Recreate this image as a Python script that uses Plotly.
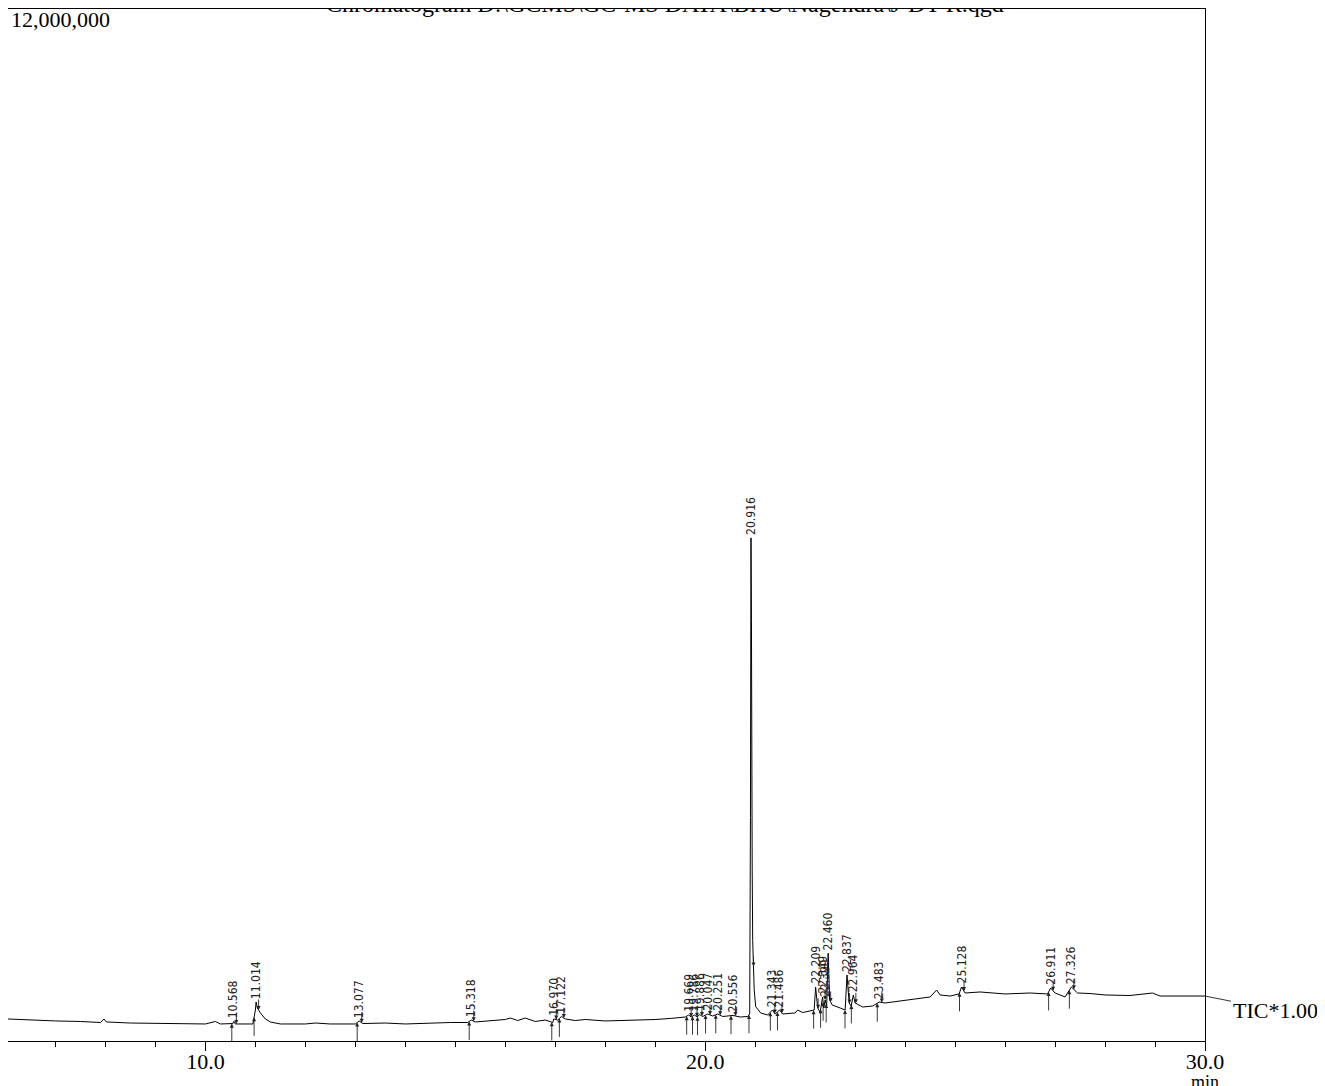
import numpy as np
import plotly.graph_objects as go

# ---------------- data ----------------
rt_min = [6.05, 6.5, 7.0, 7.5, 7.9, 7.97, 8.02, 8.5, 9.0, 9.5, 10.0, 10.2, 10.3, 10.55, 10.568, 10.6,
          10.95, 11.0, 11.014, 11.04, 11.1, 11.2, 11.3, 11.5, 12.0, 12.2, 12.5, 13.0, 13.077, 13.15,
          13.6, 14.0, 14.5, 14.9, 15.25, 15.318, 15.4, 15.7, 16.0, 16.1, 16.25, 16.4, 16.6, 16.8,
          16.95, 16.97, 17.05, 17.122, 17.2, 17.4, 17.6, 18.0, 18.5, 19.0, 19.3, 19.6, 19.669, 19.72,
          19.786, 19.84, 19.886, 19.95, 20.047, 20.15, 20.251, 20.35, 20.556, 20.7, 20.85, 20.89,
          20.905, 20.916, 20.925, 20.94, 20.95, 20.98, 21.01, 21.11, 21.25, 21.343, 21.4, 21.486,
          21.55, 21.8, 21.85, 21.95, 22.1, 22.18, 22.209, 22.25, 22.3, 22.349, 22.37, 22.399, 22.43,
          22.46, 22.49, 22.54, 22.7, 22.8, 22.837, 22.88, 22.92, 22.964, 23.0, 23.15, 23.35, 23.483,
          23.6, 24.0, 24.5, 24.63, 24.7, 24.9, 25.08, 25.128, 25.2, 25.5, 26.0, 26.5, 26.85, 26.911,
          27.0, 27.2, 27.326, 27.45, 27.7, 28.0, 28.5, 28.95, 29.1, 29.5, 30.0]
tic = [256000, 244000, 233000, 227000, 215000, 256000, 221000, 209000, 203000, 198000, 198000, 227000,
       198000, 203000, 227000, 198000, 198000, 360000, 453000, 384000, 326000, 256000, 221000, 198000,
       198000, 209000, 198000, 198000, 233000, 203000, 209000, 198000, 209000, 215000, 215000, 244000,
       221000, 233000, 250000, 267000, 238000, 267000, 227000, 244000, 215000, 256000, 244000, 285000,
       256000, 238000, 250000, 233000, 238000, 250000, 262000, 279000, 302000, 279000, 302000, 279000,
       308000, 285000, 314000, 291000, 314000, 285000, 297000, 279000, 285000, 314000, 2600000, 5850000,
       4900000, 2000000, 1170000, 600000, 399000, 326000, 302000, 360000, 314000, 360000, 314000, 326000,
       360000, 331000, 349000, 360000, 628000, 384000, 337000, 512000, 384000, 477000, 407000, 1020000,
       477000, 419000, 384000, 360000, 767000, 442000, 407000, 535000, 442000, 395000, 407000, 453000,
       442000, 477000, 512000, 593000, 535000, 523000, 547000, 628000, 558000, 570000, 547000, 558000,
       547000, 616000, 558000, 512000, 628000, 558000, 552000, 535000, 529000, 558000, 523000, 523000,
       523000]

peak_rt = [10.568, 11.014, 13.077, 15.318, 16.970, 17.122, 19.669, 19.786, 19.886, 20.047, 20.251,
           20.556, 20.916, 21.343, 21.486, 22.209, 22.349, 22.399, 22.460, 22.837, 22.964, 23.483,
           25.128, 26.911, 27.326]
peak_labels = ["10.568", "11.014", "13.077", "15.318", "16.970", "17.122", "19.669", "19.786",
               "19.886", "20.047", "20.251", "20.556", "20.916", "21.343", "21.486", "22.209",
               "22.349", "22.399", "22.460", "22.837", "22.964", "23.483", "25.128", "26.911",
               "27.326"]

x_tick_vals = [10.0, 20.0, 30.0]
x_tick_text = ["10.0", "20.0", "30.0"]
title_text = "Chromatogram D:\\GCMS\\GC-MS DATA\\BHU\\Nagendra\\J-DT-R.qgd"
y_max_label = "12,000,000"
trace_label = "TIC*1.00"

# ---------------- figure ----------------
serif = "Liberation Serif, Times New Roman, serif"
narrow = "Liberation Sans Narrow, DejaVu Sans Condensed, Arial Narrow, sans-serif"

fig = go.Figure()
fig.add_trace(go.Scatter(x=rt_min, y=tic, mode="lines",
                         line=dict(color="black", width=1), hoverinfo="skip", showlegend=False))

rt_arr = np.array(rt_min)
tic_arr = np.array(tic, dtype=float)

annotations = []
for rt, lab in zip(peak_rt, peak_labels):
    h = float(np.interp(rt, rt_arr, tic_arr))
    annotations.append(dict(x=rt, y=h, xref="x", yref="y", text=lab, textangle=-90,
                            showarrow=False, xanchor="center", yanchor="bottom", yshift=1,
                            font=dict(family=narrow, size=12, color="#222")))
    xs = rt - 0.04
    ys = float(np.interp(xs, rt_arr, tic_arr))
    annotations.append(dict(x=xs, y=ys, xref="x", yref="y", text="", showarrow=True,
                            ax=0, ay=20, arrowhead=2, arrowsize=0.9, arrowwidth=0.9,
                            arrowcolor="#222"))
    xe = rt + 0.05
    ye = float(np.interp(xe, rt_arr, tic_arr))
    annotations.append(dict(x=xe, y=ye, xref="x", yref="y", text="", showarrow=True,
                            ax=0, ay=-12, arrowhead=2, arrowsize=0.9, arrowwidth=0.9,
                            arrowcolor="#222"))

annotations.append(dict(x=0.549, y=1, xref="paper", yref="paper", text=title_text,
                        showarrow=False, xanchor="center", yanchor="bottom", yshift=-10,
                        font=dict(family=serif, size=24, color="black")))
annotations.append(dict(x=0, y=1, xref="paper", yref="paper", text=y_max_label,
                        showarrow=False, xanchor="left", yanchor="top", xshift=1, yshift=4,
                        font=dict(family=serif, size=22, color="black")))
annotations.append(dict(x=rt_min[-1], y=tic[-1], xref="x", yref="y", text=trace_label,
                        showarrow=True, ax=70, ay=14, arrowhead=0, arrowwidth=0.8,
                        arrowcolor="black",
                        font=dict(family=serif, size=22, color="black")))
annotations.append(dict(x=30.0, y=0, xref="x", yref="paper", text="min",
                        showarrow=False, xanchor="center", yanchor="top", yshift=-29,
                        font=dict(family=serif, size=18, color="black")))

fig.update_layout(
    width=1325, height=1086,
    margin=dict(l=0, r=128, t=1, b=53),
    paper_bgcolor="white", plot_bgcolor="white",
    showlegend=False,
    annotations=annotations,
    xaxis=dict(range=[6.05, 30.0], tickvals=x_tick_vals, ticktext=x_tick_text,
               ticks="outside", ticklen=9, tickwidth=1, tickcolor="black",
               ticklabelstandoff=-8,
               showline=True, linecolor="black", linewidth=1, mirror=True,
               showgrid=False, zeroline=False,
               tickfont=dict(family=serif, size=22, color="black"),
               minor=dict(dtick=1, tick0=0, ticks="outside", ticklen=5,
                          tickcolor="black", showgrid=False)),
    yaxis=dict(range=[0, 12000000], showticklabels=False, ticks="",
               showline=True, linecolor="black", linewidth=1, mirror=True,
               showgrid=False, zeroline=False),
)

fig.write_html("out.html")
